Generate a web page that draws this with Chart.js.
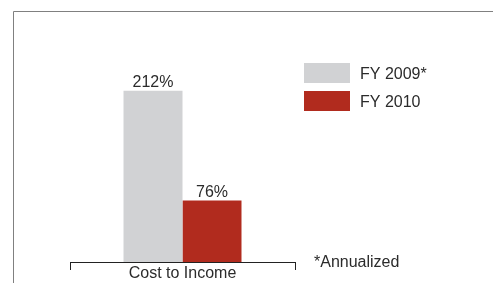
<!DOCTYPE html>
<html>
<head>
<meta charset="utf-8">
<script src="https://cdn.jsdelivr.net/npm/chart.js@4"></script>
<style>
  html, body { margin: 0; padding: 0; background: #ffffff; }
  canvas { display: block; }
</style>
</head>
<body>
<canvas id="c" width="493" height="283"></canvas>
<script>
// ---- data ----
const categories = ['Cost to Income'];
const seriesLabels = ['FY 2009*', 'FY 2010'];
const fy2009 = [212];
const fy2010 = [76];
const footnote = '*Annualized';

// ---- styles ----
const GRAY = '#d1d2d4';
const RED = '#b12b1e';
const TEXT = '#2b2b2b';
const FONT = '16px "Liberation Sans", Arial, sans-serif';

const framePlugin = {
  id: 'frame',
  beforeDraw(chart) {
    const ctx = chart.ctx;
    ctx.save();
    ctx.strokeStyle = '#808080';
    ctx.lineWidth = 1;
    ctx.beginPath();
    ctx.moveTo(13.5, 283);
    ctx.lineTo(13.5, 11.5);
    ctx.lineTo(493, 11.5);
    ctx.stroke();
    ctx.restore();
  }
};

const valueLabelPlugin = {
  id: 'valueLabels',
  afterDatasetsDraw(chart) {
    const ctx = chart.ctx;
    ctx.save();
    ctx.font = FONT;
    ctx.fillStyle = TEXT;
    ctx.textAlign = 'center';
    ctx.textBaseline = 'alphabetic';
    chart.data.datasets.forEach((ds, di) => {
      const meta = chart.getDatasetMeta(di);
      meta.data.forEach((bar, i) => {
        ctx.fillText(ds.data[i] + '%', bar.x, bar.y - 4);
      });
    });
    ctx.restore();
  }
};

const legendPlugin = {
  id: 'customLegend',
  afterDraw(chart) {
    const ctx = chart.ctx;
    ctx.save();
    ctx.font = FONT;
    ctx.textAlign = 'left';
    ctx.textBaseline = 'alphabetic';
    chart.data.datasets.forEach((ds, i) => {
      const top = 63 + i * 28;
      ctx.fillStyle = ds.backgroundColor;
      ctx.fillRect(304, top, 46, 20);
      ctx.fillStyle = TEXT;
      ctx.fillText(ds.label, 360, top + 16);
    });
    ctx.fillText(footnote, 314, 267);
    ctx.restore();
  }
};

new Chart(document.getElementById('c'), {
  type: 'bar',
  data: {
    labels: categories,
    datasets: [
      { label: seriesLabels[0], data: fy2009, backgroundColor: GRAY, categoryPercentage: 0.5244, barPercentage: 1 },
      { label: seriesLabels[1], data: fy2010, backgroundColor: RED, categoryPercentage: 0.5244, barPercentage: 1 }
    ]
  },
  options: {
    responsive: false,
    animation: false,
    devicePixelRatio: 1,
    layout: { padding: { left: 70, right: 198, top: 60, bottom: 0 } },
    plugins: { legend: { display: false }, tooltip: { enabled: false } },
    scales: {
      y: { display: false, min: 0, max: 250 },
      x: {
        afterFit(scale) { scale.height = 21; },
        border: { display: true, color: '#222', width: 1 },
        grid: { display: true, drawOnChartArea: false, drawTicks: true, tickLength: 8, color: '#222', lineWidth: 1, offset: true },
        ticks: { color: TEXT, font: { family: '"Liberation Sans", Arial, sans-serif', size: 16 }, padding: -6, maxRotation: 0 }
      }
    }
  },
  plugins: [framePlugin, valueLabelPlugin, legendPlugin]
});
</script>
</body>
</html>
